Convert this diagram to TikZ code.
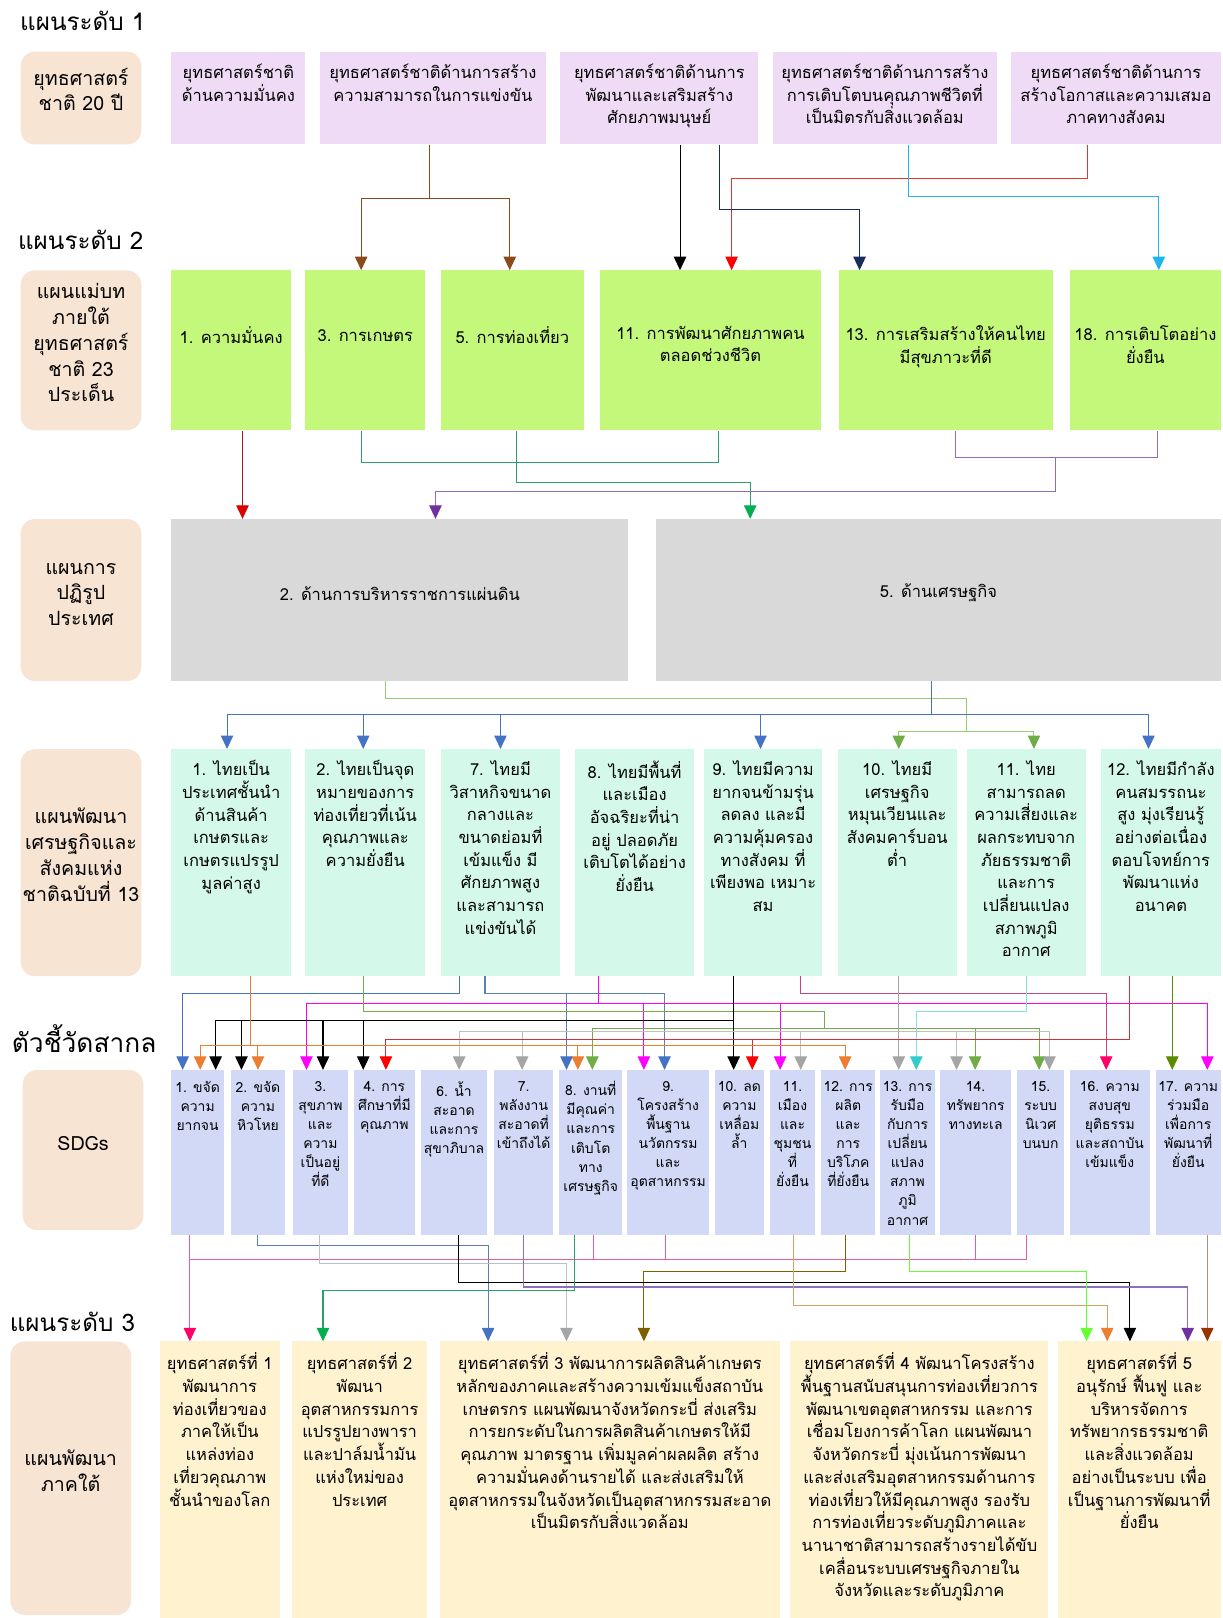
\documentclass[tikz,border=0pt]{standalone}
\usepackage{fontspec}
\setmainfont[Script=Thai]{Loma}
\usetikzlibrary{positioning, fit, arrows.meta}

\definecolor{peach}{HTML}{F8E4D3}
\definecolor{lilac}{HTML}{EFDBF5}
\definecolor{mpgreen}{HTML}{C4F87A}
\definecolor{rfgray}{HTML}{D9D9D9}
\definecolor{mint}{HTML}{D4F9EA}
\definecolor{periw}{HTML}{D1D9F7}
\definecolor{cream}{HTML}{FFF2CE}

\definecolor{cbrown}{HTML}{8B4A1C}
\definecolor{cred}{HTML}{E8342F}
\definecolor{cnavy}{HTML}{1B2D5B}
\definecolor{ccyan}{HTML}{1FB5E8}
\definecolor{cdkred}{HTML}{A51C1C}
\definecolor{cteal}{HTML}{2F9E6E}
\definecolor{cpurple}{HTML}{8E6CC0}
\definecolor{cviolet}{HTML}{7030A0}
\definecolor{clgreen}{HTML}{9BCB6B}
\definecolor{cblue}{HTML}{4472C4}
\definecolor{cgrayblue}{HTML}{5A7FB0}
\definecolor{corange}{HTML}{ED7D31}
\definecolor{cgreen}{HTML}{70AD47}
\definecolor{cgreen2}{HTML}{00B050}
\definecolor{cmag}{HTML}{FF00FF}
\definecolor{cgray}{HTML}{A5A5A5}
\definecolor{ccrim}{HTML}{D0303A}
\definecolor{cplum}{HTML}{C2487F}
\definecolor{cpink}{HTML}{FF0066}
\definecolor{cpinkln}{HTML}{E0609E}
\definecolor{cturq}{HTML}{33CCCC}
\definecolor{colive}{HTML}{5C8A00}
\definecolor{cbrown2}{HTML}{7F6000}
\definecolor{clime}{HTML}{66FF33}
\definecolor{ctan}{HTML}{D9A066}
\definecolor{crust}{HTML}{993300}
\definecolor{cbrownln}{HTML}{B08F7A}

\begin{document}
\begin{tikzpicture}[x=1pt, y=-1pt,
    head/.style={anchor=west, font=\fontsize{23.5}{27}\selectfont},
    cat/.style={fill=peach, rounded corners=14pt, inner sep=0pt, align=center, font=\fontsize{19}{25}\selectfont},
    box/.style={fill=#1, inner sep=0pt},
    txt/.style={align=center, inner sep=0pt, font=\fontsize{16}{22}\selectfont, execute at begin node=\strut},
    sdgtxt/.style={align=center, inner sep=0pt, font=\fontsize{13.5}{18.5}\selectfont, execute at begin node=\strut},
    link/.style={draw=#1, line width=1pt},
    arr/.style={-{Triangle[width=12pt, length=13pt, color=#1]}}
  ]
  \fill[white] (0,0) rectangle (1185,1568);
  \useasboundingbox (0,0) rectangle (1185,1568);

  % Headings
  \node[head] (h1) at (16,20) {แผนระดับ 1};
  \node[head] (h2) at (14,232) {แผนระดับ 2};
  \node[head, font=\fontsize{25.5}{29}\selectfont] (hidx) at (8,1007) {ตัวชี้วัดสากล};
  \node[head] (h3) at (6,1281) {แผนระดับ 3};

  % Row labels (left column)
  \node[cat, fit={(20,50) (137,140)}] (c1) {ยุทธศาสตร์\\ชาติ 20 ปี};
  \node[cat, fit={(20,262) (137,417)}] (c2) {แผนแม่บท\\ภายใต้\\ยุทธศาสตร์\\ชาติ 23\\ประเด็น};
  \node[cat, fit={(20,503) (137,660)}] (c3) {แผนการ\\ปฏิรูป\\ประเทศ};
  \node[cat, fit={(20,726) (137,946)}] (c4) {แผนพัฒนา\\เศรษฐกิจและ\\สังคมแห่ง\\ชาติฉบับที่ 13};
  \node[cat, fit={(22,1037) (139,1192)}] (c5) {SDGs};
  \node[cat, fit={(10,1300) (127,1565)}] (c6) {แผนพัฒนา\\ภาคใต้};

  % Level 1: national strategy
  \node[box=lilac, fit={(166,50) (296,140)}] (st1) {};
  \node[box=lilac, fit={(310,50) (529,140)}] (st2) {};
  \node[box=lilac, fit={(543,50) (735,140)}] (st3) {};
  \node[box=lilac, fit={(749,50) (966,140)}] (st4) {};
  \node[box=lilac, fit={(980,50) (1183,140)}] (st5) {};
  \node[txt, below=12pt of st1.north] (st1t) {ยุทธศาสตร์ชาติ\\ด้านความมั่นคง};
  \node[txt, below=12pt of st2.north] (st2t) {ยุทธศาสตร์ชาติด้านการสร้าง\\ความสามารถในการแข่งขัน};
  \node[txt, below=12pt of st3.north] (st3t) {ยุทธศาสตร์ชาติด้านการ\\พัฒนาและเสริมสร้าง\\ศักยภาพมนุษย์};
  \node[txt, below=12pt of st4.north] (st4t) {ยุทธศาสตร์ชาติด้านการสร้าง\\การเติบโตบนคุณภาพชีวิตที่\\เป็นมิตรกับสิ่งแวดล้อม};
  \node[txt, below=12pt of st5.north] (st5t) {ยุทธศาสตร์ชาติด้านการ\\สร้างโอกาสและความเสมอ\\ภาคทางสังคม};

  % Level 2: master plans
  \node[box=mpgreen, fit={(166,262) (282,417)}] (mp1) {};
  \node[box=mpgreen, fit={(296,262) (412,417)}] (mp3) {};
  \node[box=mpgreen, fit={(427,262) (566,417)}] (mp5) {};
  \node[box=mpgreen, fit={(581,262) (796,417)}] (mp11) {};
  \node[box=mpgreen, fit={(813,262) (1020,417)}] (mp13) {};
  \node[box=mpgreen, fit={(1037,262) (1183,417)}] (mp18) {};
  \node[txt, below=54pt of mp1.north] (mp1t) {1. ความมั่นคง};
  \node[txt, below=54pt of mp3.north] (mp3t) {3. การเกษตร};
  \node[txt, below=54pt of mp5.north] (mp5t) {5. การท่องเที่ยว};
  \node[txt, below=54pt of mp11.north] (mp11t) {11. การพัฒนาศักยภาพคน\\ตลอดช่วงชีวิต};
  \node[txt, below=54pt of mp13.north] (mp13t) {13. การเสริมสร้างให้คนไทย\\มีสุขภาวะที่ดี};
  \node[txt, below=54pt of mp18.north] (mp18t) {18. การเติบโตอย่าง\\ยั่งยืน};

  % Reform plans
  \node[box=rfgray, font=\fontsize{16}{22}\selectfont, fit={(166,503) (609,660)}] (rf2) {2. ด้านการบริหารราชการแผ่นดิน};
  \node[box=rfgray, font=\fontsize{16}{22}\selectfont, fit={(636,503) (1183,660)}] (rf5) {5. ด้านเศรษฐกิจ};

  % National plan 13
  \node[box=mint, fit={(166,726) (282,946)}] (np1) {};
  \node[box=mint, fit={(296,726) (412,946)}] (np2) {};
  \node[box=mint, fit={(427,726) (543,946)}] (np7) {};
  \node[box=mint, fit={(557,726) (673,946)}] (np8) {};
  \node[box=mint, fit={(682,726) (797,946)}] (np9) {};
  \node[box=mint, fit={(812,726) (927,946)}] (np10) {};
  \node[box=mint, fit={(937,726) (1052,946)}] (np11) {};
  \node[box=mint, fit={(1067,726) (1183,946)}] (np12) {};
  \node[txt, below=11pt of np1.north] (np1t) {1. ไทยเป็น\\ประเทศชั้นนำ\\ด้านสินค้า\\เกษตรและ\\เกษตรแปรรูป\\มูลค่าสูง};
  \node[txt, below=11pt of np2.north] (np2t) {2. ไทยเป็นจุด\\หมายของการ\\ท่องเที่ยวที่เน้น\\คุณภาพและ\\ความยั่งยืน};
  \node[txt, below=11pt of np7.north] (np7t) {7. ไทยมี\\วิสาหกิจขนาด\\กลางและ\\ขนาดย่อมที่\\เข้มแข็ง มี\\ศักยภาพสูง\\และสามารถ\\แข่งขันได้};
  \node[txt, below=11pt of np8.north] (np8t) {8. ไทยมีพื้นที่\\และเมือง\\อัจฉริยะที่น่า\\อยู่ ปลอดภัย\\เติบโตได้อย่าง\\ยั่งยืน};
  \node[txt, below=11pt of np9.north] (np9t) {9. ไทยมีความ\\ยากจนข้ามรุ่น\\ลดลง และมี\\ความคุ้มครอง\\ทางสังคม ที่\\เพียงพอ เหมาะ\\สม};
  \node[txt, below=11pt of np10.north] (np10t) {10. ไทยมี\\เศรษฐกิจ\\หมุนเวียนและ\\สังคมคาร์บอน\\ต่ำ};
  \node[txt, below=11pt of np11.north] (np11t) {11. ไทย\\สามารถลด\\ความเสี่ยงและ\\ผลกระทบจาก\\ภัยธรรมชาติ\\และการ\\เปลี่ยนแปลง\\สภาพภูมิ\\อากาศ};
  \node[txt, below=11pt of np12.north] (np12t) {12. ไทยมีกำลัง\\คนสมรรถนะ\\สูง มุ่งเรียนรู้\\อย่างต่อเนื่อง\\ตอบโจทย์การ\\พัฒนาแห่ง\\อนาคต};

  % SDGs
  \node[box=periw, fit={(166,1037) (217,1197)}] (g1) {};
  \node[box=periw, fit={(224,1037) (276,1197)}] (g2) {};
  \node[box=periw, fit={(284,1037) (337,1197)}] (g3) {};
  \node[box=periw, fit={(343,1037) (402,1197)}] (g4) {};
  \node[box=periw, fit={(408,1037) (472,1197)}] (g6) {};
  \node[box=periw, fit={(479,1037) (536,1197)}] (g7) {};
  \node[box=periw, fit={(542,1037) (603,1197)}] (g8) {};
  \node[box=periw, fit={(608,1037) (687,1197)}] (g9) {};
  \node[box=periw, fit={(693,1037) (740,1197)}] (g10) {};
  \node[box=periw, fit={(746,1037) (790,1197)}] (g11) {};
  \node[box=periw, fit={(796,1037) (848,1197)}] (g12) {};
  \node[box=periw, fit={(853,1037) (906,1197)}] (g13) {};
  \node[box=periw, fit={(911,1037) (980,1197)}] (g14) {};
  \node[box=periw, fit={(986,1037) (1031,1197)}] (g15) {};
  \node[box=periw, fit={(1037,1037) (1114,1197)}] (g16) {};
  \node[box=periw, fit={(1120,1037) (1183,1197)}] (g17) {};
  \node[sdgtxt, below=11pt of g1.north] (g1t) {1. ขจัด\\ความ\\ยากจน};
  \node[sdgtxt, below=11pt of g2.north] (g2t) {2. ขจัด\\ความ\\หิวโหย};
  \node[sdgtxt, below=11pt of g3.north] (g3t) {3.\\สุขภาพ\\และ\\ความ\\เป็นอยู่\\ที่ดี};
  \node[sdgtxt, below=11pt of g4.north] (g4t) {4. การ\\ศึกษาที่มี\\คุณภาพ};
  \node[sdgtxt, below=11pt of g6.north] (g6t) {6. น้ำ\\สะอาด\\และการ\\สุขาภิบาล};
  \node[sdgtxt, below=11pt of g7.north] (g7t) {7.\\พลังงาน\\สะอาดที่\\เข้าถึงได้};
  \node[sdgtxt, below=11pt of g8.north] (g8t) {8. งานที่\\มีคุณค่า\\และการ\\เติบโต\\ทาง\\เศรษฐกิจ};
  \node[sdgtxt, below=11pt of g9.north] (g9t) {9.\\โครงสร้าง\\พื้นฐาน\\นวัตกรรม\\และ\\อุตสาหกรรม};
  \node[sdgtxt, below=11pt of g10.north] (g10t) {10. ลด\\ความ\\เหลื่อม\\ล้ำ};
  \node[sdgtxt, below=11pt of g11.north] (g11t) {11.\\เมือง\\และ\\ชุมชน\\ที่\\ยั่งยืน};
  \node[sdgtxt, below=11pt of g12.north] (g12t) {12. การ\\ผลิต\\และ\\การ\\บริโภค\\ที่ยั่งยืน};
  \node[sdgtxt, below=11pt of g13.north] (g13t) {13. การ\\รับมือ\\กับการ\\เปลี่ยน\\แปลง\\สภาพ\\ภูมิ\\อากาศ};
  \node[sdgtxt, below=11pt of g14.north] (g14t) {14.\\ทรัพยากร\\ทางทะเล};
  \node[sdgtxt, below=11pt of g15.north] (g15t) {15.\\ระบบ\\นิเวศ\\บนบก};
  \node[sdgtxt, below=11pt of g16.north] (g16t) {16. ความ\\สงบสุข\\ยุติธรรม\\และสถาบัน\\เข้มแข็ง};
  \node[sdgtxt, below=11pt of g17.north] (g17t) {17. ความ\\ร่วมมือ\\เพื่อการ\\พัฒนาที่\\ยั่งยืน};

  % Level 3: southern region plan
  \node[box=cream, fit={(155,1300) (271,1568)}] (s1) {};
  \node[box=cream, fit={(283,1300) (414,1568)}] (s2) {};
  \node[box=cream, fit={(426,1300) (756,1568)}] (s3) {};
  \node[box=cream, fit={(766,1300) (1016,1568)}] (s4) {};
  \node[box=cream, fit={(1025,1300) (1183,1568)}] (s5) {};
  \node[txt, below=11pt of s1.north] (s1t) {ยุทธศาสตร์ที่ 1\\พัฒนาการ\\ท่องเที่ยวของ\\ภาคให้เป็น\\แหล่งท่อง\\เที่ยวคุณภาพ\\ชั้นนำของโลก};
  \node[txt, below=11pt of s2.north] (s2t) {ยุทธศาสตร์ที่ 2\\พัฒนา\\อุตสาหกรรมการ\\แปรรูปยางพารา\\และปาล์มน้ำมัน\\แห่งใหม่ของ\\ประเทศ};
  \node[txt, below=11pt of s3.north] (s3t) {ยุทธศาสตร์ที่ 3 พัฒนาการผลิตสินค้าเกษตร\\หลักของภาคและสร้างความเข้มแข็งสถาบัน\\เกษตรกร แผนพัฒนาจังหวัดกระบี่ ส่งเสริม\\การยกระดับในการผลิตสินค้าเกษตรให้มี\\คุณภาพ มาตรฐาน เพิ่มมูลค่าผลผลิต สร้าง\\ความมั่นคงด้านรายได้ และส่งเสริมให้\\อุตสาหกรรมในจังหวัดเป็นอุตสาหกรรมสะอาด\\เป็นมิตรกับสิ่งแวดล้อม};
  \node[txt, below=11pt of s4.north] (s4t) {ยุทธศาสตร์ที่ 4 พัฒนาโครงสร้าง\\พื้นฐานสนับสนุนการท่องเที่ยวการ\\พัฒนาเขตอุตสาหกรรม และการ\\เชื่อมโยงการค้าโลก แผนพัฒนา\\จังหวัดกระบี่ มุ่งเน้นการพัฒนา\\และส่งเสริมอุตสาหกรรมด้านการ\\ท่องเที่ยวให้มีคุณภาพสูง รองรับ\\การท่องเที่ยวระดับภูมิภาคและ\\นานาชาติสามารถสร้างรายได้ขับ\\เคลื่อนระบบเศรษฐกิจภายใน\\จังหวัดและระดับภูมิภาค};
  \node[txt, below=11pt of s5.north] (s5t) {ยุทธศาสตร์ที่ 5\\อนุรักษ์ ฟื้นฟู และ\\บริหารจัดการ\\ทรัพยากรธรรมชาติ\\และสิ่งแวดล้อม\\อย่างเป็นระบบ เพื่อ\\เป็นฐานการพัฒนาที่\\ยั่งยืน};

  % Level 1 -> level 2
  \draw[link=cbrown, arr=cbrown] (st2.south -| 416,0) -- ++(0,52) -| (mp3.north -| 350,0);
  \draw[link=cbrown, arr=cbrown] (st2.south -| 416,0) -- ++(0,52) -| (mp5.north -| 494,0);
  \draw[link=black, arr=black] (st3.south -| 659,0) -- (mp11.north -| 659,0);
  \draw[link=cred, arr=red] (st5.south -| 1054,0) -- ++(0,33) -| (mp11.north -| 709,0);
  \draw[link=cnavy, arr=cnavy] (st3.south -| 697,0) -- ++(0,63) -| (mp13.north -| 833,0);
  \draw[link=ccyan, arr=ccyan] (st4.south -| 880,0) -- ++(0,50) -| (mp18.north -| 1123,0);

  % Level 2 -> reform plans
  \draw[link=cdkred, arr=red!85!black] (mp1.south -| 235,0) -- (rf2.north -| 235,0);
  \draw[link=cteal] (mp3.south -| 350,0) -- ++(0,31) -| (mp11.south -| 696,0);
  \draw[link=cteal, arr=cgreen2] (mp5.south -| 501,0) -- ++(0,50) -| (rf5.north -| 727,0);
  \draw[link=cpurple] (mp13.south -| 926,0) -- ++(0,26) -| (mp18.south -| 1122,0);
  \coordinate (pj) at (1023,443);
  \draw[link=cpurple, arr=cviolet] (pj) -- ++(0,33) -| (rf2.north -| 422,0);

  % Reform plans -> plan 13
  \coordinate (gj) at (937,709);
  \draw[link=clgreen] (rf2.south -| 374,0) -- ++(0,17) -| (gj);
  \draw[link=clgreen, arr=cgreen] (gj) -| (np10.north -| 871,0);
  \draw[link=clgreen, arr=cgreen] (gj) -| (np11.north -| 1002,0);
  \coordinate (bj) at (903,692);
  \draw[link=cblue] (rf5.south -| 903,0) -- (bj);
  \draw[link=cblue, arr=cblue] (bj) -| (np1.north -| 220,0);
  \draw[link=cblue, arr=cblue] (bj) -| (np2.north -| 352,0);
  \draw[link=cblue, arr=cblue] (bj) -| (np7.north -| 485,0);
  \draw[link=cblue, arr=cblue] (bj) -| (np9.north -| 737,0);
  \draw[link=cblue, arr=cblue] (bj) -| (np12.north -| 1113,0);

  % Plan 13 -> SDGs
  \draw[link=cblue, arr=cblue] (np7.south -| 445,0) -- ++(0,17) -| (g1.north -| 177,0);
  \draw[link=cgrayblue, arr=cblue] (np7.south -| 470,0) -- ++(0,17) -| (g8.north -| 549,0);
  \draw[link=cgrayblue, arr=cblue] (np7.south -| 470,0) -- ++(0,17) -| (g9.north -| 644,0);
  \draw[link=cplum, arr=cpink] (np9.south -| 776,0) -- ++(0,17) -| (g16.north -| 1072,0);
  \draw[link=cmag, arr=cmag] (np8.south -| 580,0) -- ++(0,26) -| (g3.north -| 297,0);
  \draw[link=cmag, arr=cmag] (np8.south -| 580,0) -- ++(0,26) -| (g9.north -| 624,0);
  \draw[link=cmag, arr=cmag] (np8.south -| 580,0) -- ++(0,26) -| (g11.north -| 756,0);
  \draw[link=cmag, arr=cmag] (np8.south -| 580,0) -- ++(0,26) -| (g17.north -| 1170,0);
  \coordinate (oj) at (799,997);
  \draw[link=cgreen] (np2.south -| 352,0) -- ++(0,34) -| (oj);
  \draw[link=cgreen, arr=cgreen] (oj) -| (g8.north -| 574,0);
  \draw[link=cgreen, arr=cgreen] (oj) -| (g14.north -| 945,0);
  \draw[link=cgreen, arr=cgreen] (oj) -| (g15.north -| 1007,0);
  \draw[link=cturq!60, arr=cturq] (np11.south -| 995,0) -- ++(0,34) -| (g13.north -| 888,0);
  \draw[link=black, arr=black] (np9.south -| 711,0) -- (g10.north -| 711,0);
  \coordinate (kj) at (711,989);
  \draw[link=black, arr=black] (kj) -| (g1.north -| 209,0);
  \draw[link=black, arr=black] (kj) -| (g2.north -| 234,0);
  \draw[link=black, arr=black] (kj) -| (g3.north -| 313,0);
  \draw[link=black, arr=black] (kj) -| (g4.north -| 352,0);
  \draw[link=cgray, arr=cgray] (np10.south -| 871,0) -- (g13.north -| 871,0);
  \coordinate (yj) at (871,1000);
  \draw[link=cgray!70, arr=cgray] (yj) -| (g6.north -| 445,0);
  \draw[link=cgray!70, arr=cgray] (yj) -| (g7.north -| 506,0);
  \draw[link=cgray!70, arr=cgray] (yj) -| (g11.north -| 776,0);
  \draw[link=cgray!70, arr=cgray] (yj) -| (g14.north -| 927,0);
  \draw[link=cgray!70, arr=cgray] (yj) -| (g15.north -| 1017,0);
  \draw[link=ccrim, arr=red] (np12.south -| 1095,0) -- ++(0,61) -| (g4.north -| 374,0);
  \draw[link=ccrim, arr=red] (np12.south -| 1095,0) -- ++(0,61) -| (g10.north -| 729,0);
  \draw[link=corange, arr=corange] (np1.south -| 243,0) -- ++(0,67) -| (g1.north -| 194,0);
  \draw[link=corange, arr=corange] (np1.south -| 243,0) -- ++(0,67) -| (g2.north -| 250,0);
  \draw[link=corange, arr=corange] (np1.south -| 243,0) -- ++(0,67) -| (g8.north -| 560,0);
  \draw[link=corange, arr=corange] (np1.south -| 243,0) -- ++(0,67) -| (g12.north -| 819,0);
  \draw[link=colive, arr=colive] (np12.south -| 1136,0) -- (g17.north -| 1136,0);

  % SDGs -> level 3
  \draw[link=cgrayblue, arr=cblue] (g2.south -| 250,0) -- ++(0,10) -| (s3.north -| 473,0);
  \draw[link=cpinkln, arr=cpink] (g15.south -| 995,0) -- ++(0,23) -| (s1.north -| 184,0);
  \draw[link=cpinkln] (g1.south -| 184,0) -- ++(0,23);
  \draw[link=cpinkln] (g8.south -| 575,0) -- ++(0,23);
  \draw[link=cpinkln] (g9.south -| 645,0) -- ++(0,23);
  \draw[link=cpinkln] (g14.south -| 945,0) -- ++(0,23);
  \draw[link=cgray!70, arr=cgray] (g3.south -| 310,0) -- ++(0,27) -| (s3.north -| 549,0);
  \draw[link=cbrown2, arr=cbrown2] (g12.south -| 819,0) -- ++(0,35) -| (s3.north -| 624,0);
  \draw[link=black, arr=black] (g6.south -| 444,0) -- ++(0,46) -| (s5.north -| 1095,0);
  \draw[link=cpurple, arr=cviolet] (g7.south -| 507,0) -- ++(0,50) -| (s5.north -| 1151,0);
  \draw[link=cteal, arr=cgreen2] (g8.south -| 557,0) -- ++(0,53) -| (s2.north -| 313,0);
  \draw[link=clime, arr=clime] (g13.south -| 881,0) -- ++(0,35) -| (s5.north -| 1053,0);
  \draw[link=ctan, arr=corange] (g11.south -| 769,0) -- ++(0,68) -| (s5.north -| 1073,0);
  \draw[link=cbrownln, arr=crust] (g17.south -| 1170,0) -- (s5.north -| 1170,0);
\end{tikzpicture}
\end{document}
